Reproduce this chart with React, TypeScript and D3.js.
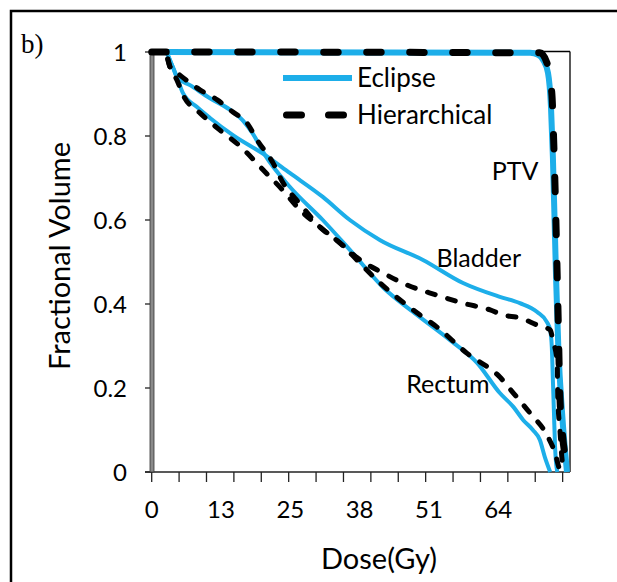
import React from "react";
import * as d3 from "d3";

// ---- Data (dose in Gy, fractional volume) ----
const ptvEclipseDose = [0, 2.5, 69.9, 71.4, 72.3, 73.2, 73.75, 74.1, 74.7, 75.1, 75.8, 76.7];
const ptvEclipseVol = [1, 1, 0.998, 0.993, 0.981, 0.95, 0.869, 0.75, 0.457, 0.298, 0.14, 0];

const ptvHierDose = [0, 2.5, 71.7, 73.0, 73.9, 74.3, 75.0, 75.4, 75.8, 76.7, 77.2];
const ptvHierVol = [1, 1, 0.998, 0.974, 0.902, 0.767, 0.41, 0.18, 0.1, 0.02, 0];

const bladderEclipseDose = [0, 2.46, 3.75, 4.67, 5.78, 8.37, 10.77, 15.0, 20.9, 25.5, 31.6, 36.6, 42.2, 50.1, 57.5, 64.3, 68.0, 71.2, 73.0, 73.6, 73.9, 74.1, 74.3, 74.5, 74.9];
const bladderEclipseVol = [1, 1, 0.969, 0.94, 0.902, 0.869, 0.843, 0.802, 0.755, 0.712, 0.655, 0.6, 0.552, 0.505, 0.45, 0.417, 0.402, 0.381, 0.357, 0.338, 0.298, 0.219, 0.14, 0.06, 0];

const rectumEclipseDose = [0, 2.46, 3.75, 4.67, 7.07, 10.77, 14.5, 16.9, 18.7, 20.9, 25.5, 31.6, 36.6, 42.7, 49.0, 55.1, 60.1, 64.3, 66.8, 68.6, 70.4, 71.7, 72.6, 73.6];
const rectumEclipseVol = [1, 1, 0.969, 0.94, 0.921, 0.89, 0.862, 0.836, 0.805, 0.755, 0.679, 0.6, 0.529, 0.44, 0.374, 0.314, 0.26, 0.188, 0.155, 0.124, 0.1, 0.076, 0.036, 0];

const bladderHierDose = [0, 2.46, 3.4, 4.67, 5.78, 8.9, 12.6, 16.3, 20.6, 24.2, 27.4, 31.1, 34.8, 38.5, 42.7, 47.2, 52.7, 57.5, 62.5, 64.9, 68.0, 71.2, 73.6, 74.1, 74.9, 75.0, 75.4, 75.8, 76.3];
const bladderHierVol = [1, 1, 0.964, 0.933, 0.898, 0.855, 0.814, 0.776, 0.719, 0.671, 0.624, 0.583, 0.545, 0.505, 0.474, 0.445, 0.421, 0.402, 0.386, 0.374, 0.367, 0.35, 0.338, 0.314, 0.26, 0.179, 0.1, 0.029, 0];

const rectumHierDose = [0, 2.46, 3.4, 5.2, 8.9, 12.1, 15.0, 17.6, 19.5, 22.4, 24.2, 27.4, 31.1, 34.8, 37.9, 41.6, 49.0, 52.7, 58.2, 64.3, 66.8, 69.9, 73.0, 74.5, 75.4, 75.8];
const rectumHierVol = [1, 1, 0.964, 0.945, 0.91, 0.886, 0.857, 0.831, 0.79, 0.736, 0.69, 0.638, 0.583, 0.545, 0.505, 0.457, 0.379, 0.345, 0.283, 0.226, 0.188, 0.14, 0.088, 0.045, 0.005, 0];

const xTickValues = [0, 12.8, 25.6, 38.4, 51.2, 64];
const xTickLabels = ["0", "13", "25", "38", "51", "64"];
const xMinorStep = 5.06;
const xMinorCount = 16;
const yTickValues = [0, 0.2, 0.4, 0.6, 0.8, 1];
const yTickLabels = ["0", "0.2", "0.4", "0.6", "0.8", "1"];

const legendLabels = ["Eclipse", "Hierarchical"];
const organLabels = [
  { name: "PTV", dose: 62.8, vol: 0.695 },
  { name: "Bladder", dose: 52.6, vol: 0.488 },
  { name: "Rectum", dose: 47.0, vol: 0.187 },
];

const BLUE = "#1DAEE9";
const FONT = "Lato, 'Open Sans', sans-serif";

const zip = (a: number[], b: number[]) => a.map((v, i) => [v, b[i]] as [number, number]);

export default function App() {
  const W = 617;
  const H = 582;
  const x = d3.scaleLinear().domain([0, 77.26]).range([151.7, 570]);
  const y = d3.scaleLinear().domain([0, 1]).range([472, 52]);
  const line = d3
    .line<[number, number]>()
    .x((d) => x(d[0]))
    .y((d) => y(d[1]))
    .curve(d3.curveMonotoneX);

  const minorTicks = d3.range(xMinorCount).map((i) => i * xMinorStep);

  const blueSeries = [
    { d: zip(bladderEclipseDose, bladderEclipseVol), w: 4 },
    { d: zip(rectumEclipseDose, rectumEclipseVol), w: 4 },
    { d: zip(ptvEclipseDose, ptvEclipseVol), w: 6 },
  ];
  const dashSeries = [
    { d: zip(bladderHierDose, bladderHierVol), w: 5, dash: "8 13" },
    { d: zip(rectumHierDose, rectumHierVol), w: 5, dash: "8 13" },
    { d: zip(ptvHierDose, ptvHierVol), w: 7, dash: "14.5 28.5" },
  ];

  return (
    <svg
      width={W}
      height={H}
      style={{ position: "absolute", left: 0, top: 0, background: "#fff" }}
    >
      <rect x={0} y={0} width={W} height={H} fill="#fff" />
      {/* outer frame */}
      <rect x={11} y={11} width={800} height={800} fill="none" stroke="#000" strokeWidth={2.5} />
      <text x={21} y={53} fontFamily="'Liberation Serif', 'Times New Roman', serif" fontSize={27} fill="#000">
        b)
      </text>

      {/* plot border top & right */}
      <line x1={152} x2={570} y1={51.5} y2={51.5} stroke="#000" strokeWidth={1.3} />
      <line x1={570} x2={570} y1={51.5} y2={472} stroke="#000" strokeWidth={1.3} />

      {/* x axis */}
      <line x1={145} x2={570} y1={472} y2={472} stroke="#222" strokeWidth={1.5} />
      {minorTicks.map((t, i) => (
        <line key={"mt" + i} x1={x(t)} x2={x(t)} y1={472} y2={482} stroke="#222" strokeWidth={1.3} />
      ))}
      {xTickValues.map((t, i) => (
        <text key={"xt" + i} x={x(t)} y={518} textAnchor="middle" fontFamily={FONT} fontSize={24} fill="#000">
          {xTickLabels[i]}
        </text>
      ))}

      {/* y axis */}
      {yTickValues.map((t, i) => (
        <g key={"yt" + i}>
          <line x1={145} x2={152} y1={y(t)} y2={y(t)} stroke="#222" strokeWidth={1.3} />
          <text x={127} y={y(t) + 8.5} textAnchor="end" fontFamily={FONT} fontSize={24} fill="#000">
            {yTickLabels[i]}
          </text>
        </g>
      ))}
      <rect x={150} y={51.5} width={4} height={420.5} fill="#8a8a8a" stroke="#333" strokeWidth={0.8} />

      {/* axis titles */}
      <text x={379} y={569} textAnchor="middle" fontFamily={FONT} fontSize={29} fill="#000">
        Dose(Gy)
      </text>
      <text
        transform={`translate(70,256) rotate(-90)`}
        textAnchor="middle"
        fontFamily={FONT}
        fontSize={29}
        fill="#000"
      >
        Fractional Volume
      </text>

      {/* series */}
      {blueSeries.map((s, i) => (
        <path key={"b" + i} d={line(s.d) || ""} fill="none" stroke={BLUE} strokeWidth={s.w} strokeLinejoin="round" />
      ))}
      {dashSeries.map((s, i) => (
        <path
          key={"h" + i}
          d={line(s.d) || ""}
          fill="none"
          stroke="#000"
          strokeWidth={s.w}
          strokeDasharray={s.dash}
          strokeLinecap="round"
          strokeLinejoin="round"
        />
      ))}

      {/* organ labels */}
      {organLabels.map((o) => (
        <text key={o.name} x={x(o.dose)} y={y(o.vol)} fontFamily={FONT} fontSize={25} fill="#000">
          {o.name}
        </text>
      ))}

      {/* legend */}
      <rect x={282} y={62} width={220} height={68} fill="#fff" />
      <line x1={283} x2={352} y1={78} y2={78} stroke={BLUE} strokeWidth={6} />
      <text x={357} y={87} fontFamily={FONT} fontSize={26} fill="#000">
        {legendLabels[0]}
      </text>
      <line
        x1={286.5}
        x2={350}
        y1={115}
        y2={115}
        stroke="#000"
        strokeWidth={7}
        strokeDasharray="15 27"
        strokeLinecap="round"
      />
      <text x={357} y={124} fontFamily={FONT} fontSize={26} fill="#000">
        {legendLabels[1]}
      </text>
    </svg>
  );
}
